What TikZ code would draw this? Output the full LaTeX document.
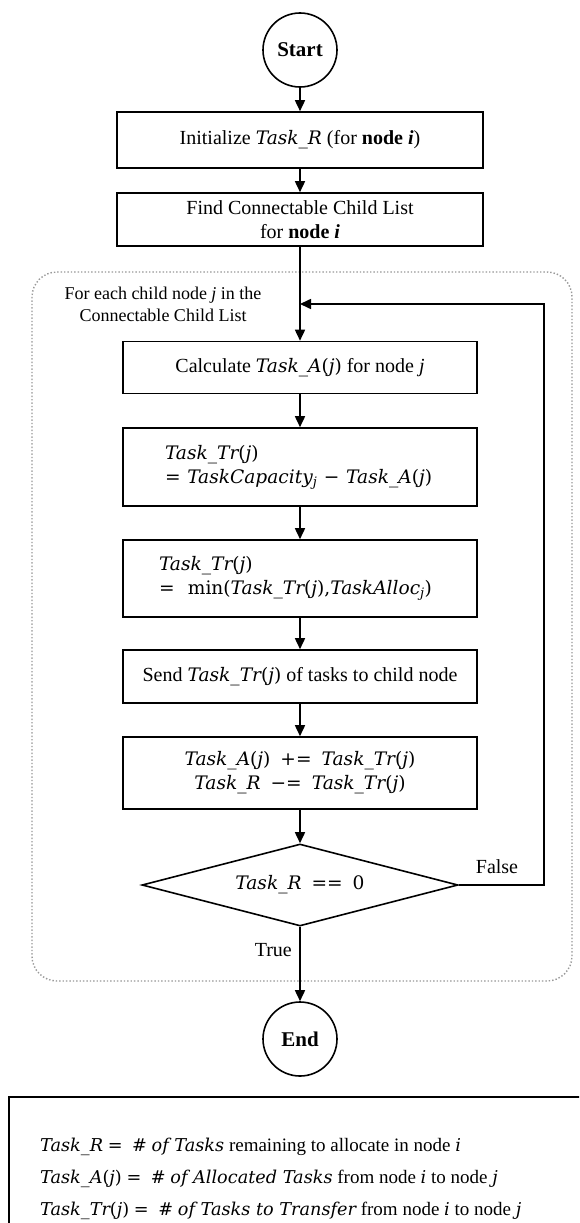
\documentclass[tikz,border=0pt]{standalone}
\usepackage{fontspec}
\setmainfont{Liberation Serif}
\newfontfamily\cmfont{DejaVu Serif}[Scale=0.93]
\usetikzlibrary{shapes.geometric,arrows.meta}

% variables set in an italic "math" face, operators upright
\newcommand\vi[1]{{\cmfont\itshape #1}}
\newcommand\vu[1]{{\cmfont #1}}
\newcommand\TR{\vi{Task\_R}}
\newcommand\TA{\vi{Task\_A}\vu{(}\vi{j}\vu{)}}
\newcommand\TT{\vi{Task\_Tr}\vu{(}\vi{j}\vu{)}}

\tikzset{
  base/.style={font=\fontsize{20}{24}\selectfont},
  flow/.style={base, draw, line width=1.6pt, rectangle, fill=white,
    minimum width=354pt, inner sep=0pt, align=center},
  term/.style={base, draw, line width=1.6pt, circle, fill=white,
    minimum size=74pt, inner sep=0pt, font=\fontsize{21}{25}\selectfont\bfseries},
  decision/.style={base, draw, line width=1.6pt, diamond, aspect=3.85, fill=white,
    minimum width=316pt, minimum height=82pt, inner sep=0pt},
  conn/.style={draw, line width=1.6pt, -{Triangle[length=11pt,width=10pt]}},
  group/.style={draw=gray!80, line width=1.4pt, dotted, rounded corners=25pt},
  note/.style={font=\fontsize{18}{22}\selectfont, align=center, inner sep=0pt},
  branch/.style={base, inner sep=0pt},
}

\begin{document}
\begin{tikzpicture}[x=1pt, y=-1pt]
  \clip (0,0) rectangle (579,1223);
  \fill[white] (0,0) rectangle (579,1223);

  % loop region
  \draw[group] (32,272) rectangle (572,981);

  \node[term] (start) at (300,50) {Start};
  \node[flow, minimum width=366pt, minimum height=56pt] (init) at (300,140)
    {Initialize \TR\ (for \textbf{node \textit{i}})};
  \node[flow, minimum width=366pt, minimum height=53pt] (find) at (300,219.5)
    {Find Connectable Child List\\for \textbf{node \textit{i}}};

  \node[note] (looplabel) at (163,304)
    {For each child node \textit{j} in the\\Connectable Child List};
  \coordinate (join) at (300,304);

  \node[flow, minimum height=52pt] (calc) at (300,367.5)
    {Calculate \TA\ for node \textit{j}};
  \node[flow, minimum height=78pt, align=left, text width=270pt, inner xsep=42pt] (cap) at (300,467)
    {\mbox{\TT}\\\mbox{\vu{=} \vi{TaskCapacity}\textsubscript{\vi{j}} \vu{\textminus} \TA}};
  \node[flow, minimum height=77pt, align=left, text width=282pt, inner xsep=36pt] (limit) at (300,578.5)
    {\mbox{\TT}\\\mbox{\vu{=}\ \ \vu{min(}\TT\vu{,}\vi{TaskAlloc}\textsubscript{\vi{j}}\vu{)}}};
  \node[flow, minimum height=53pt] (send) at (300,676.5)
    {Send \TT\ of tasks to child node};
  \node[flow, minimum height=72pt] (update) at (300,773)
    {\TA\ \ \vu{+=}\ \ \TT\\\TR\ \ \vu{\textminus=}\ \ \TT};
  \node[decision] (check) at (300,885) {\TR\ \ \vu{==}\ \ \vu{0}};
  \node[term] (end) at (300,1039) {End};

  \coordinate (back) at (544,885);

  % main flow
  \draw[conn] (start) -- (init);
  \draw[conn] (init) -- (find);
  \draw[conn] (find) -- (calc);
  \draw[conn] (calc) -- (cap);
  \draw[conn] (cap) -- (limit);
  \draw[conn] (limit) -- (send);
  \draw[conn] (send) -- (update);
  \draw[conn] (update) -- (check);
  \draw[conn] (check.south) -- (end.north);
  \draw[conn] (check.east) -- (back) |- (join);

  \node[branch] (false) at (497,867) {False};
  \node[branch, anchor=east] (true) at (292,950) {True};

  % legend
  \draw[line width=1.4pt] (9,1097) rectangle (620,1260);
  \node[base, align=left, anchor=west, inner sep=0pt,
        font=\fontsize{19}{32}\selectfont] (legend) at (40,1179)
    {\TR\ \vu{=}\ \ \vu{\#} \vi{of Tasks} remaining to allocate in node \vi{i}\\
     \TA\ \vu{=}\ \ \vu{\#} \vi{of Allocated Tasks} from node \vi{i} to node \vi{j}\\
     \TT\ \vu{=}\ \ \vu{\#} \vi{of Tasks to Transfer} from node \vi{i} to node \vi{j}};
\end{tikzpicture}
\end{document}
